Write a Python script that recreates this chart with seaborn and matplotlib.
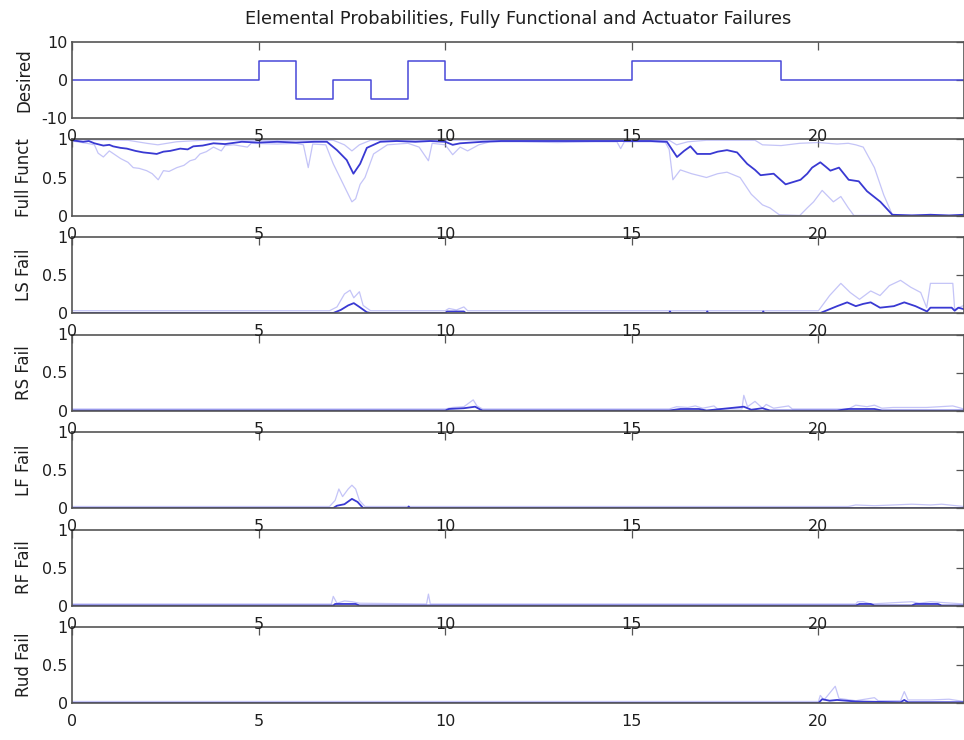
import numpy as np
import pandas as pd
import matplotlib
matplotlib.use("Agg")
import matplotlib.pyplot as plt
import seaborn as sns

# ---------------- data ----------------
title = "Elemental Probabilities, Fully Functional and Actuator Failures"
panel_labels = ["Desired", "Full Funct", "LS Fail", "RS Fail", "LF Fail", "RF Fail", "Rud Fail"]
x_ticks = [0, 5, 10, 15, 20]

desired_t = [0, 5, 6, 7, 8, 9, 10, 15, 19, 23.9]
desired_v = [0, 5, -5, 0, -5, 5, 0, 5, 0, 0]

ff_mean = [(0, 0.99), (0.3, 0.97), (0.45, 0.98), (0.6, 0.95), (0.84, 0.92), (1.0, 0.93), (1.1, 0.91),
           (1.3, 0.89), (1.47, 0.88), (1.7, 0.85), (1.91, 0.83), (2.1, 0.82), (2.27, 0.81), (2.45, 0.84),
           (2.63, 0.85), (2.9, 0.88), (3.1, 0.87), (3.25, 0.91), (3.5, 0.92), (3.79, 0.95), (4.1, 0.94),
           (4.55, 0.97), (5.0, 0.96), (5.5, 0.97), (6.0, 0.96), (6.5, 0.97), (6.83, 0.97), (7.1, 0.86),
           (7.36, 0.73), (7.54, 0.55), (7.72, 0.68), (7.9, 0.89), (8.26, 0.97), (8.7, 0.98), (9.2, 0.97),
           (9.6, 0.98), (10.0, 0.97), (10.2, 0.93), (10.4, 0.95), (10.7, 0.96), (11.0, 0.97), (11.5, 0.98),
           (12.5, 0.98), (13.5, 0.98), (14.5, 0.98), (15.5, 0.98), (15.94, 0.97), (16.21, 0.77),
           (16.4, 0.85), (16.57, 0.91), (16.75, 0.81), (17.1, 0.81), (17.3, 0.84), (17.55, 0.86),
           (17.82, 0.83), (18.09, 0.68), (18.3, 0.60), (18.45, 0.53), (18.8, 0.55), (19.12, 0.41),
           (19.52, 0.47), (19.7, 0.55), (19.83, 0.63), (20.05, 0.70), (20.2, 0.64), (20.32, 0.59),
           (20.55, 0.63), (20.81, 0.47), (21.08, 0.45), (21.3, 0.32), (21.66, 0.18), (21.98, 0.01),
           (22.5, 0.0), (23.0, 0.01), (23.5, 0.0), (23.9, 0.01)]

ff_low = [(0, 0.98), (0.4, 0.95), (0.6, 0.93), (0.7, 0.82), (0.84, 0.77), (1.0, 0.85), (1.3, 0.75),
          (1.5, 0.70), (1.64, 0.63), (1.8, 0.62), (2.0, 0.59), (2.15, 0.55), (2.31, 0.47), (2.45, 0.59),
          (2.6, 0.58), (2.81, 0.63), (3.0, 0.66), (3.16, 0.72), (3.3, 0.74), (3.43, 0.81), (3.6, 0.84),
          (3.79, 0.90), (4.0, 0.85), (4.1, 0.92), (4.33, 0.93), (4.7, 0.90), (4.8, 0.95), (5.5, 0.94),
          (6.0, 0.95), (6.2, 0.93), (6.33, 0.63), (6.45, 0.94), (6.8, 0.93), (7.0, 0.68), (7.27, 0.41),
          (7.5, 0.18), (7.6, 0.22), (7.72, 0.41), (7.85, 0.50), (8.08, 0.81), (8.45, 0.93), (9.0, 0.95),
          (9.3, 0.90), (9.55, 0.72), (9.65, 0.95), (10.0, 0.93), (10.2, 0.80), (10.4, 0.90), (10.6, 0.85),
          (10.9, 0.93), (11.2, 0.97), (12.0, 0.97), (13.0, 0.96), (14.0, 0.97), (14.6, 0.97), (14.7, 0.88),
          (14.8, 0.97), (15.5, 0.97), (15.9, 0.96), (16.0, 0.87), (16.1, 0.47), (16.3, 0.60), (16.6, 0.55),
          (17.0, 0.50), (17.3, 0.55), (17.55, 0.57), (17.9, 0.50), (18.2, 0.28), (18.5, 0.14), (18.7, 0.10),
          (18.95, 0.01), (19.5, 0.0), (19.7, 0.10), (19.87, 0.18), (20.1, 0.33), (20.4, 0.18), (20.6, 0.25),
          (20.8, 0.10), (20.95, 0.0), (23.9, 0.0)]

ff_high = [(0, 1.0), (1.5, 0.99), (2.0, 0.95), (2.3, 0.93), (2.8, 0.97), (3.5, 0.99), (7.0, 0.99),
           (7.3, 0.93), (7.5, 0.85), (7.7, 0.93), (8.0, 0.99), (16.0, 0.99), (16.2, 0.93), (16.5, 0.97),
           (17.0, 0.99), (18.3, 0.99), (18.5, 0.93), (19.0, 0.92), (19.5, 0.95), (20.0, 0.96), (20.5, 0.94),
           (20.8, 0.95), (21.0, 0.93), (21.2, 0.90), (21.5, 0.63), (21.75, 0.27), (21.98, 0.01), (23.9, 0.0)]

ls_mean = [(0, 0.0), (7.0, 0.0), (7.2, 0.04), (7.4, 0.10), (7.55, 0.13), (7.7, 0.08), (7.9, 0.01),
           (8.0, 0.0), (10.0, 0.0), (10.05, 0.02), (10.5, 0.02), (10.55, 0.0), (16.0, 0.0), (16.02, 0.02),
           (16.05, 0.0), (17.0, 0.0), (17.02, 0.02), (17.05, 0.0), (18.5, 0.0), (18.52, 0.02), (18.55, 0.0),
           (20.05, 0.0), (20.3, 0.05), (20.5, 0.09), (20.77, 0.14), (21.0, 0.09), (21.2, 0.12), (21.4, 0.14),
           (21.65, 0.07), (22.02, 0.09), (22.3, 0.14), (22.6, 0.09), (22.91, 0.02), (23.0, 0.07),
           (23.57, 0.07), (23.65, 0.03), (23.75, 0.07), (23.9, 0.05)]
ls_high = [(0, 0.03), (6.9, 0.03), (7.1, 0.08), (7.3, 0.25), (7.45, 0.30), (7.55, 0.20), (7.7, 0.28),
           (7.8, 0.10), (8.0, 0.03), (10.0, 0.03), (10.1, 0.06), (10.3, 0.04), (10.5, 0.08), (10.6, 0.03),
           (20.0, 0.03), (20.3, 0.23), (20.6, 0.39), (20.85, 0.27), (21.1, 0.18), (21.4, 0.29), (21.65, 0.23),
           (21.9, 0.36), (22.2, 0.43), (22.47, 0.34), (22.74, 0.27), (22.9, 0.07), (23.0, 0.39), (23.6, 0.39),
           (23.65, 0.05), (23.9, 0.10)]

rs_mean = [(0, 0.0), (10.0, 0.0), (10.1, 0.02), (10.5, 0.03), (10.8, 0.05), (10.95, 0.01), (11.0, 0.0),
           (16.0, 0.0), (16.3, 0.02), (16.8, 0.02), (17.0, 0.0), (18.0, 0.05), (18.2, 0.01), (18.5, 0.03),
           (18.7, 0.0), (20.5, 0.0), (20.8, 0.02), (21.5, 0.02), (21.7, 0.0), (23.9, 0.0)]
rs_high = [(0, 0.02), (10.0, 0.02), (10.2, 0.04), (10.5, 0.05), (10.75, 0.14), (10.85, 0.06), (11.0, 0.02),
           (16.0, 0.02), (16.2, 0.05), (16.5, 0.04), (16.7, 0.06), (16.9, 0.03), (17.2, 0.06), (17.3, 0.02),
           (17.95, 0.02), (18.0, 0.20), (18.1, 0.05), (18.3, 0.12), (18.5, 0.03), (18.6, 0.08), (18.8, 0.03),
           (19.2, 0.06), (19.3, 0.02), (20.8, 0.02), (21.0, 0.07), (21.3, 0.05), (21.5, 0.07), (21.7, 0.03),
           (22.0, 0.04), (22.9, 0.04), (23.6, 0.06), (23.9, 0.02)]

lf_mean = [(0, 0.0), (7.0, 0.0), (7.1, 0.03), (7.3, 0.05), (7.5, 0.12), (7.65, 0.08), (7.8, 0.0),
           (9.0, 0.0), (9.02, 0.02), (9.05, 0.0), (23.9, 0.0)]
lf_high = [(0, 0.02), (6.9, 0.02), (7.05, 0.10), (7.15, 0.25), (7.25, 0.15), (7.4, 0.25), (7.5, 0.30),
           (7.6, 0.25), (7.7, 0.10), (7.85, 0.02), (20.8, 0.02), (21.0, 0.04), (21.5, 0.03), (22.5, 0.05),
           (23.0, 0.04), (23.3, 0.05), (23.9, 0.02)]

rf_mean = [(0, 0.0), (7.0, 0.0), (7.05, 0.02), (7.6, 0.02), (7.7, 0.0), (21.0, 0.0), (21.1, 0.02),
           (21.4, 0.02), (21.5, 0.0), (22.5, 0.0), (22.6, 0.02), (23.2, 0.02), (23.3, 0.0), (23.9, 0.0)]
rf_high = [(0, 0.02), (6.95, 0.02), (7.0, 0.12), (7.1, 0.03), (7.3, 0.06), (7.5, 0.05), (7.7, 0.03),
           (9.5, 0.02), (9.55, 0.15), (9.6, 0.02), (21.0, 0.02), (21.05, 0.05), (21.2, 0.05), (21.4, 0.02),
           (22.5, 0.05), (22.7, 0.03), (23.0, 0.05), (23.9, 0.02)]

rud_mean = [(0, 0.0), (20.0, 0.0), (20.1, 0.05), (20.3, 0.03), (20.5, 0.04), (21.0, 0.02), (22.2, 0.01),
            (22.3, 0.04), (22.4, 0.01), (23.9, 0.01)]
rud_high = [(0, 0.02), (20.0, 0.02), (20.05, 0.10), (20.15, 0.04), (20.45, 0.22), (20.55, 0.06),
            (21.0, 0.03), (21.5, 0.07), (21.6, 0.03), (22.2, 0.03), (22.3, 0.15), (22.4, 0.04),
            (23.0, 0.04), (23.5, 0.05), (23.9, 0.02)]

# ---------------- style ----------------
sns.set_theme(style="white")
plt.rcParams['font.family'] = ['DejaVu Sans']

W, H = 964, 740
fig = plt.figure(figsize=(W / 100, H / 100), dpi=100)
fig.patch.set_facecolor("white")

left_px, right_px = 72, 964
top0, pitch, height = 42, 97.5, 76
x_max = 23.9

MAIN = "#2e2ed0"
LIGHT = "#8a8af0"
SPINE = "#555555"
TXT = "#1e1e1e"


def draw(ax, pts, color, lw, alpha):
    df = pd.DataFrame(pts, columns=["t", "v"])
    sns.lineplot(data=df, x="t", y="v", ax=ax, color=color, lw=lw, alpha=alpha,
                 estimator=None, sort=False)


prob_series = [
    (ff_mean, [ff_low, ff_high]),
    (ls_mean, [ls_high]),
    (rs_mean, [rs_high]),
    (lf_mean, [lf_high]),
    (rf_mean, [rf_high]),
    (rud_mean, [rud_high]),
]

axes = []
for i in range(7):
    top = top0 + i * pitch
    ax = fig.add_axes([left_px / W, 1 - (top + height) / H, (right_px - left_px) / W, height / H])
    ax.set_zorder(20 - i)
    ax.patch.set_alpha(0.0)
    axes.append(ax)
    if i == 0:
        df = pd.DataFrame({"t": desired_t, "v": desired_v})
        sns.lineplot(data=df, x="t", y="v", ax=ax, color="#4848d8", lw=1.1,
                     drawstyle="steps-post", estimator=None, sort=False)
        ax.set_ylim(-10, 10)
        ax.set_yticks([-10, 0, 10])
        ax.set_yticklabels(["-10", "0", "10"])
    else:
        mean, others = prob_series[i - 1]
        for o in others:
            draw(ax, o, LIGHT, 0.9, 0.5)
        draw(ax, mean, MAIN, 1.3, 0.95)
        ax.set_ylim(0, 1)
        ax.set_yticks([0, 0.5, 1])
        ax.set_yticklabels(["0", "0.5", "1"])
    ax.set_xlim(0, x_max)
    ax.set_xticks(x_ticks)
    ax.set_xticklabels([str(v) for v in x_ticks])
    ax.set_xlabel("")
    ax.set_ylabel(panel_labels[i], fontsize=12, color=TXT)
    ax.yaxis.set_label_coords(-(72 - 33) / (right_px - left_px), 0.5)
    ax.tick_params(axis="both", direction="in", length=6, width=0.9, colors=SPINE,
                   labelsize=11.5, labelcolor=TXT, top=True, right=True)
    ax.tick_params(axis="y", pad=3)
    ax.tick_params(axis="x", pad=8)
    for s in ax.spines.values():
        s.set_color(SPINE)
        s.set_linewidth(1.2)
    ax.grid(False)

fig.text((left_px + 446) / W, 1 - 19 / H, title, ha="center", va="center", fontsize=12.8, color=TXT)

fig.savefig("out.png", dpi=100, facecolor="white")
